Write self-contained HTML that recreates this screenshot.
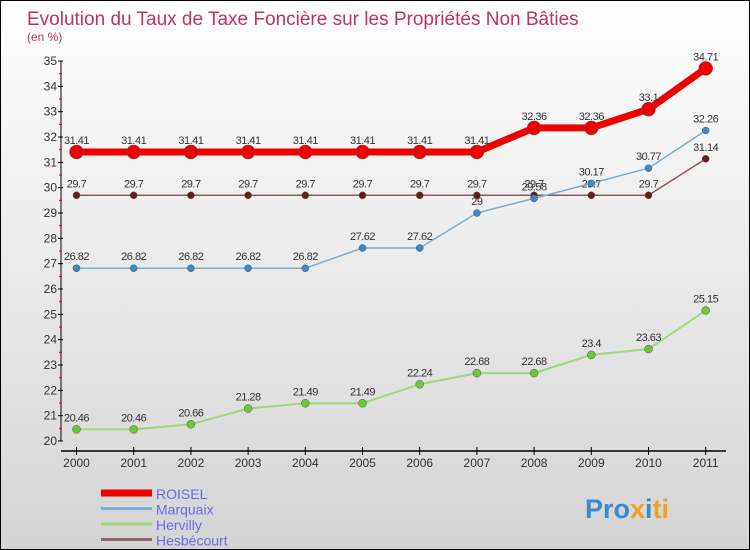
<!DOCTYPE html>
<html><head><meta charset="utf-8"><style>
body{margin:0}
#c{position:relative;width:750px;height:550px;box-sizing:border-box;border:1px solid #000;background:linear-gradient(#fff,#d4d4d4);font-family:"Liberation Sans",sans-serif;overflow:hidden}
</style></head><body>
<div id="c">
<svg id="s" width="750" height="550" style="position:absolute;left:0;top:0">
<text x="26" y="24" font-size="19" fill="#c0306a">Evolution du Taux de Taxe Foncière sur les Propriétés Non Bâties</text>
<text x="26" y="40" font-size="12" fill="#c0306a">(en %)</text>
<g id="ax"></g><g id="ser"></g>
<text x="584" y="517" font-size="27" font-weight="bold" fill="#3a8ad0">Pro<tspan fill="#f0a020">x</tspan><tspan fill="#3a8ad0">i</tspan><tspan fill="#f0a020">ti</tspan></text>
</svg>
</div>
<script>
const years=["2000","2001","2002","2003","2004","2005","2006","2007","2008","2009","2010","2011"];
const yTicks=[20,21,22,23,24,25,26,27,28,29,30,31,32,33,34,35];
const roisel=[31.41,31.41,31.41,31.41,31.41,31.41,31.41,31.41,32.36,32.36,33.1,34.71];
const marquaix=[26.82,26.82,26.82,26.82,26.82,27.62,27.62,29,29.58,30.17,30.77,32.26];
const hervilly=[20.46,20.46,20.66,21.28,21.49,21.49,22.24,22.68,22.68,23.4,23.63,25.15];
const hesbecourt=[29.7,29.7,29.7,29.7,29.7,29.7,29.7,29.7,29.7,29.7,29.7,31.14];
const NS="http://www.w3.org/2000/svg";
const X=i=>75.5+i*57.2, Y=v=>440-(v-20)*25.33;
function mk(p,t,a){const e=document.createElementNS(NS,t);for(const k in a)e.setAttribute(k,a[k]);p.appendChild(e);return e;}
const ax=document.getElementById('ax'),ser=document.getElementById('ser');
let l=mk(ax,'line',{x1:60,y1:Y(35),x2:60,y2:440,stroke:'#000'});

l=mk(ax,'line',{x1:60,y1:450,x2:725,y2:450,stroke:'#000','stroke-width':1.5});

yTicks.forEach(v=>{
 mk(ax,'line',{x1:57,x2:62,y1:Y(v),y2:Y(v),stroke:'#000'});
 if(v<35)mk(ax,'line',{x1:58,x2:61,y1:Y(v+0.5),y2:Y(v+0.5),stroke:'#e00'});
 const t=mk(ax,'text',{x:56,y:Y(v)+4,'font-size':12,fill:'#333','text-anchor':'end'});t.textContent=v;
 
});
years.forEach((y,i)=>{
 mk(ax,'line',{x1:X(i),x2:X(i),y1:446,y2:454,stroke:'#000'});
 const t=mk(ax,'text',{x:X(i),y:466,'font-size':12,fill:'#333','text-anchor':'middle'});t.textContent=y;
 
});
function series(d,col,dot,w,r,name,fs){
 const g=mk(ser,'g',{});
 const pl=mk(g,'polyline',{points:d.map((v,i)=>X(i)+','+Y(v)).join(' '),fill:'none',stroke:col,'stroke-width':w});
 
 d.forEach((v,i)=>{
  const c=mk(g,'circle',{cx:X(i),cy:Y(v),r:r,fill:dot,stroke:'#555','stroke-width':0.5});
  
  const t=mk(g,'text',{x:X(i),y:Y(v)-8,'font-size':fs,fill:'#333','text-anchor':'middle','letter-spacing':'-0.5'});t.textContent=v;
  
 });
}
series(hervilly,'#9ed87a','#6cc83a',2,4,'hervilly',11);
series(hesbecourt,'#8a5a5a','#6a1a1a',1.5,3.5,'hesbecourt',11);
series(marquaix,'#7aaed0','#3a8ac8',1.5,3.5,'marquaix',11);
series(roisel,'#ee0000','#ee0000',7,7,'roisel',11);
const leg=[['ROISEL','#ee0000',7],['Marquaix','#7aaed0',3],['Hervilly','#9ed87a',3],['Hesbécourt','#8a6a6a',3]];
leg.forEach((e,i)=>{
 const y=492+i*15.5;
 const g=mk(ser,'g',{});
 mk(g,'line',{x1:100,x2:151,y1:y,y2:y,stroke:e[1],'stroke-width':e[2]});
 const t=mk(g,'text',{x:155,y:y+6,'font-size':14,fill:'#6a6ae8'});t.textContent=e[0];
});
</script>
</body></html>
